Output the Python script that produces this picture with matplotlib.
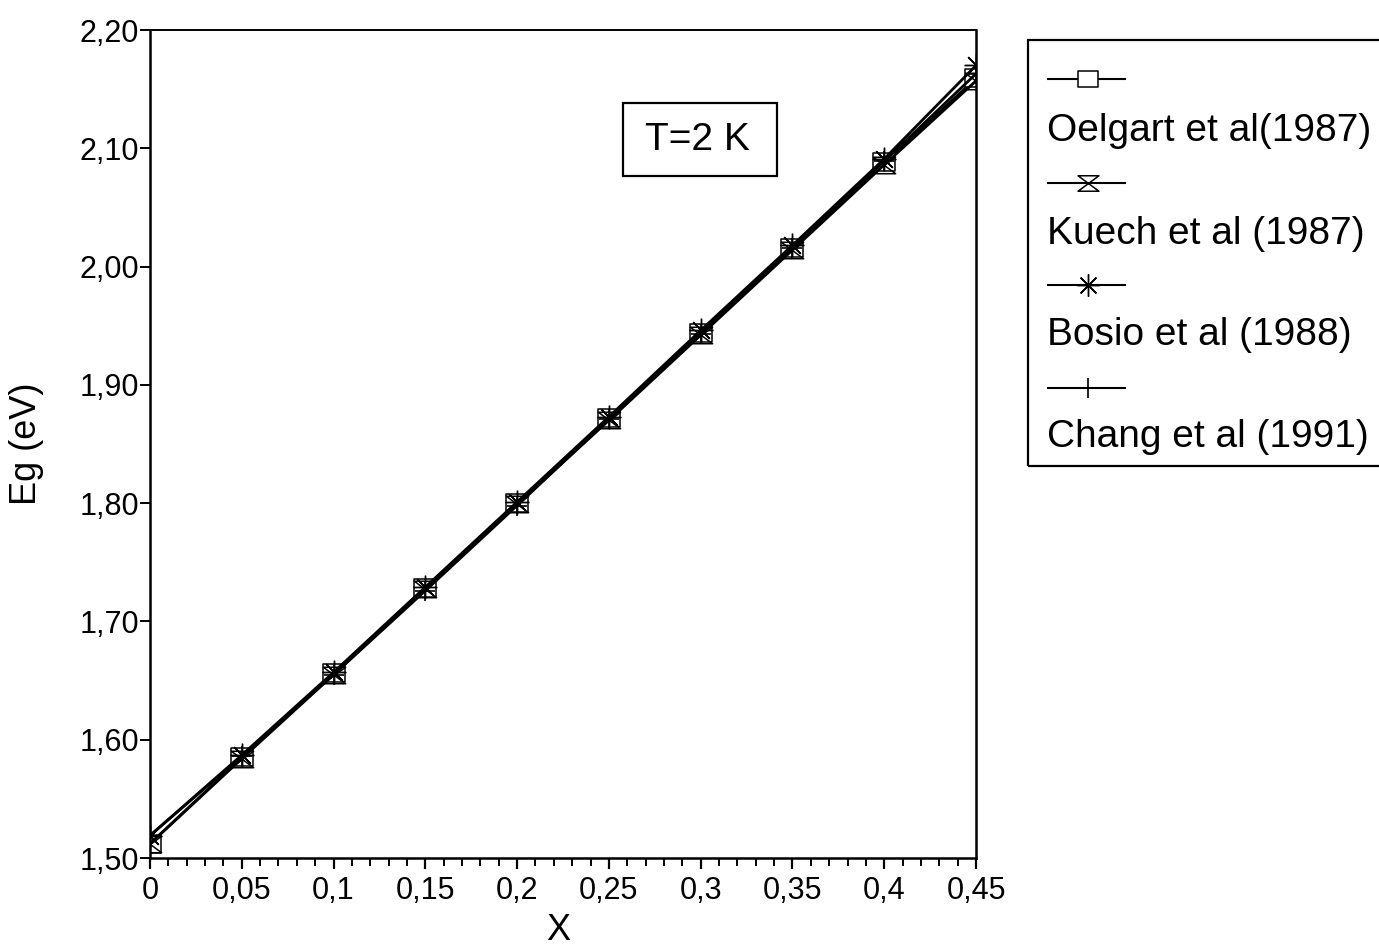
import numpy as np
import matplotlib
matplotlib.use('Agg')
from matplotlib import pyplot as plt
from matplotlib.path import Path
from matplotlib.patches import Rectangle
from matplotlib.lines import Line2D
from matplotlib.ticker import MultipleLocator, FuncFormatter

plt.rcParams['font.family'] = ['Liberation Sans', 'DejaVu Sans']

# Al composition and band gap at T = 2 K for each source
x_al = [0.0, 0.05, 0.10, 0.15, 0.20, 0.25, 0.30, 0.35, 0.40, 0.45]
eg_oelgart = [1.512, 1.585, 1.656, 1.728, 1.800, 1.872, 1.944, 2.016, 2.088, 2.159]
eg_kuech = [1.512, 1.584, 1.655, 1.727, 1.799, 1.870, 1.942, 2.014, 2.086, 2.157]
eg_bosio = [1.519, 1.587, 1.657, 1.729, 1.801, 1.873, 1.946, 2.018, 2.091, 2.170]
eg_chang = [1.519, 1.586, 1.655, 1.726, 1.798, 1.871, 1.943, 2.016, 2.089, 2.163]
labels = ['Oelgart et al(1987)', 'Kuech et al (1987)', 'Bosio et al (1988)', 'Chang et al (1991)']

# marker shapes: flat box, hourglass, asterisk, plus
box = Path([(-1.3, -1), (1.3, -1), (1.3, 1), (-1.3, 1), (-1.3, -1)],
           [Path.MOVETO, Path.LINETO, Path.LINETO, Path.LINETO, Path.CLOSEPOLY])
hourglass = Path([(-1.35, 1), (1.35, 1), (-1.35, -1), (1.35, -1), (-1.35, 1)],
                 [Path.MOVETO, Path.LINETO, Path.LINETO, Path.LINETO, Path.CLOSEPOLY])
styles = [
    dict(marker=box, ms=16, mfc='white', mec='black', mew=1.1),
    dict(marker=hourglass, ms=16, mfc='none', mec='black', mew=1.1),
    dict(marker=(8, 2, 0), ms=17, mec='black', mew=1.0),
    dict(marker='+', ms=15, mec='black', mew=1.2),
]

W, H = 1379, 951
fig = plt.figure(figsize=(W / 100, H / 100), dpi=100)
ax = fig.add_axes([150 / W, 1 - 858 / H, 826 / W, 828 / H])

series = [eg_oelgart, eg_kuech, eg_bosio, eg_chang]
for eg, st in zip(series, styles):
    ax.plot(x_al, eg, color='black', lw=2.0, **st)

ax.set_xlim(0, 0.45)
ax.set_ylim(1.50, 2.20)
ax.xaxis.set_major_locator(MultipleLocator(0.05))
ax.xaxis.set_minor_locator(MultipleLocator(0.01))
ax.yaxis.set_major_locator(MultipleLocator(0.1))
ax.xaxis.set_major_formatter(FuncFormatter(lambda v, p: ('%g' % round(v, 2)).replace('.', ',')))
ax.yaxis.set_major_formatter(FuncFormatter(lambda v, p: ('%.2f' % v).replace('.', ',')))
ax.tick_params(axis='x', which='major', direction='out', length=8, width=1.6, pad=5, labelsize=22)
ax.tick_params(axis='x', which='minor', direction='out', length=6, width=1.4)
ax.tick_params(axis='y', which='major', direction='out', length=7, width=1.4, pad=1, labelsize=22)
for s in ['left', 'bottom', 'right']:
    ax.spines[s].set_linewidth(1.8)
ax.spines['top'].set_linewidth(1.4)

ax.set_xlabel('X', fontsize=26)
ax.set_ylabel('Eg (eV)', fontsize=26)
ax.xaxis.set_label_coords((558 - 150) / 826, -(931 - 858) / 828)
ax.yaxis.set_label_coords((27 - 150) / 826, 0.5)
ax.xaxis.label.set_va('center')
ax.yaxis.label.set_va('center')

# temperature tag
fig.patches.append(Rectangle((623 / W, 1 - 176 / H), 154 / W, 73 / H, transform=fig.transFigure,
                             fill=False, ec='black', lw=1.6))
fig.text(697 / W, 1 - 140 / H, 'T=2 K', fontsize=28, ha='center', va='center')

# legend: sample line above each label
fig.patches.append(Rectangle((1028 / W, 1 - 466 / H), 400 / W, 426 / H, transform=fig.transFigure,
                             fill=False, ec='black', lw=1.6))
line_y = [79, 183, 285, 388]
text_y = [141, 244, 345, 447]
for st, lab, ly, ty in zip(styles, labels, line_y, text_y):
    st = dict(st)
    st['ms'] = st['ms'] - 1
    fig.lines.append(Line2D([1048 / W, 1088 / W, 1125 / W], [1 - ly / H] * 3, transform=fig.transFigure,
                            color='black', lw=1.5, markevery=[1], **st))
    fig.text(1047 / W, 1 - ty / H, lab, fontsize=28, ha='left', va='baseline')

fig.savefig('out.png', dpi=100)
